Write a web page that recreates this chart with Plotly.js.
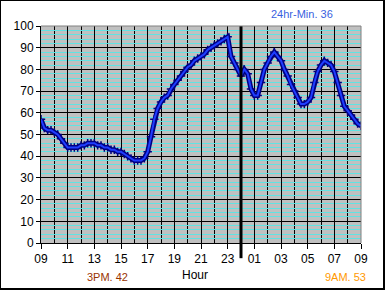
<!DOCTYPE html>
<html>
<head>
<meta charset="utf-8">
<script src="https://cdn.plot.ly/plotly-3.0.1.min.js"></script>
<style>
html,body{margin:0;padding:0;background:#fff;}
#wrap{position:relative;width:385px;height:290px;}
#chart{width:385px;height:290px;}
#frame{position:absolute;left:0;top:0;width:385px;height:290px;box-sizing:border-box;border-left:1px solid #000;border-top:1px solid #000;border-right:2px solid #000;border-bottom:2px solid #000;pointer-events:none;}
</style>
</head>
<body>
<div id="wrap"><div id="chart"></div><div id="frame"></div></div>
<script>
// Hours since 09:00
const hours = [0,0.25,0.5,0.75,1,1.25,1.5,1.75,2,2.25,2.5,2.75,3,3.25,3.5,3.75,4,4.25,4.5,4.75,5,5.25,5.5,5.75,6,6.25,6.5,6.75,7,7.25,7.5,7.75,8,8.25,8.5,8.75,9,9.25,9.5,9.75,10,10.25,10.5,10.75,11,11.25,11.5,11.75,12,12.25,12.5,12.75,13,13.25,13.5,13.75,14,14.25,14.5,14.75,15,15.25,15.5,15.75,16,16.25,16.5,16.75,17,17.25,17.5,17.75,18,18.25,18.5,18.75,19,19.25,19.5,19.75,20,20.25,20.5,20.75,21,21.25,21.5,21.75,22,22.25,22.5,22.75,23,23.25,23.5,23.75,24];
const values = [57,53,52,52,51,50,48,46,44,44,44,44,45,45,46,46,46,45,45,44,44,43,43,42,42,41,40,39,38,38,38,39,42,49,57,62,65,67,68,71,73,75,77,79,81,82,84,85,86,87,89,90,91,92,93,94,95,86,83,80,77,80,78,71,68,68,74,80,83,86,88,86,84,80,77,73,70,67,64,64,65,67,74,79,82,84,83,82,79,74,68,63,61,59,57,55,54];
const tickPos = [0,2,4,6,8,10,12,14,16,18,20,22,24];
const tickLabels = ['09','11','13','15','17','19','21','23','01','03','05','07','09'];
const midnightHour = 15;
const minText = '24hr-Min. 36';
const pm3Text = '3PM. 42';
const am9Text = '9AM. 53';
const xTitle = 'Hour';

const font = 'Liberation Sans, Arial, sans-serif';
const traces = [
  {x: hours, y: values, type:'scatter', mode:'lines+markers',
   line:{color:'#000080', width:5},
   marker:{symbol:'cross-thin', size:6, line:{color:'#000080', width:1.5}},
   hoverinfo:'skip', showlegend:false},
  {x: hours, y: values, type:'scatter', mode:'lines',
   line:{color:'#1f3dff', width:2}, hoverinfo:'skip', showlegend:false}
];
const layout = {
  width:385, height:290,
  margin:{l:41, r:24, t:26, b:47},
  paper_bgcolor:'#ffffff', plot_bgcolor:'#c0c0c0',
  font:{family:font, size:12, color:'#000'},
  xaxis:{range:[0,24], tickmode:'array', tickvals:tickPos, ticktext:tickLabels,
    showgrid:true, gridcolor:'#000', gridwidth:1, griddash:'solid',
    minor:{dtick:1, tick0:0, showgrid:true, gridcolor:'#000', gridwidth:1, griddash:'solid', ticks:''},
    ticks:'outside', ticklen:5, tickcolor:'#000', showline:true, linecolor:'#000', linewidth:1,
    zeroline:false, fixedrange:true, tickfont:{size:12}},
  yaxis:{range:[0,100], dtick:10, tick0:0,
    showgrid:true, gridcolor:'#000', gridwidth:1, griddash:'solid',
    minor:{dtick:2, tick0:0, showgrid:true, gridcolor:'#5fe3e3', gridwidth:1, griddash:'solid', ticks:''},
    ticks:'outside', ticklen:4, tickcolor:'#000', showline:true, linecolor:'#000', linewidth:1,
    zeroline:false, fixedrange:true, tickfont:{size:12}},
  shapes:[
    {type:'line', xref:'x', yref:'paper', x0:midnightHour, x1:midnightHour, y0:-0.07, y1:1, line:{color:'#000', width:3}},
    {type:'line', xref:'paper', yref:'paper', x0:0, x1:1, y0:1, y1:1, line:{color:'#808080', width:1}},
    {type:'line', xref:'paper', yref:'paper', x0:1, x1:1, y0:0, y1:1, line:{color:'#808080', width:1}}
  ],
  annotations:[
    {text:minText, xref:'paper', yref:'paper', x:0.816, y:1.055, yanchor:'middle', xanchor:'center', showarrow:false, font:{color:'#3a5fe0', size:11}},
    {text:pm3Text, xref:'paper', yref:'paper', x:0.209, y:-0.157, yanchor:'middle', xanchor:'center', showarrow:false, font:{color:'#993300', size:11}},
    {text:xTitle, xref:'paper', yref:'paper', x:0.481, y:-0.147, yanchor:'middle', xanchor:'center', showarrow:false, font:{color:'#000', size:12}},
    {text:am9Text, xref:'paper', yref:'paper', x:0.953, y:-0.157, yanchor:'middle', xanchor:'center', showarrow:false, font:{color:'#ff9900', size:11}}
  ]
};
Plotly.newPlot('chart', traces, layout, {staticPlot:true, displayModeBar:false});
</script>
</body>
</html>
